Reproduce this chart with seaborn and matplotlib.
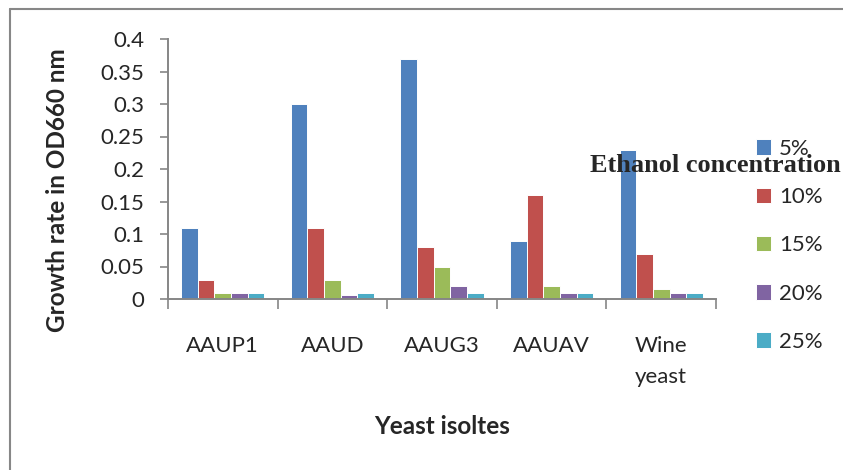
import pandas as pd
import matplotlib.pyplot as plt
import seaborn as sns
from matplotlib.lines import Line2D
from matplotlib.ticker import FuncFormatter, FixedLocator

isolates = ['AAUP1', 'AAUD', 'AAUG3', 'AAUAV', 'Wine\nyeast']
concentrations = ['5%', '10%', '15%', '20%', '25%']
growth_5 = [0.11, 0.30, 0.37, 0.09, 0.23]
growth_10 = [0.03, 0.11, 0.08, 0.16, 0.07]
growth_15 = [0.01, 0.03, 0.05, 0.02, 0.016]
growth_20 = [0.01, 0.006, 0.02, 0.01, 0.01]
growth_25 = [0.01, 0.01, 0.01, 0.01, 0.01]
colors = ['#4F81BD', '#C0504D', '#9BBB59', '#8064A2', '#4BACC6']

rows = []
for conc, vals in zip(concentrations, [growth_5, growth_10, growth_15, growth_20, growth_25]):
    for iso, v in zip(isolates, vals):
        rows.append({'isolate': iso, 'conc': conc, 'growth': v})
df = pd.DataFrame(rows)

sns.set_theme(style="white")
plt.rcParams['font.family'] = ['Lato', 'DejaVu Sans']

fig = plt.figure(figsize=(8.43, 4.70), dpi=100)
ax = fig.add_axes([168 / 843, 1 - 299 / 470, (716 - 168) / 843, 260 / 470])

sns.barplot(data=df, x='isolate', y='growth', hue='conc', order=isolates,
            hue_order=concentrations, palette=colors, saturation=1, width=0.76,
            edgecolor='white', linewidth=0.7, ax=ax, errorbar=None)

ax.set_ylim(0, 0.4)
ax.set_xlim(-0.5, 4.5)
ax.set_yticks([0, 0.05, 0.1, 0.15, 0.2, 0.25, 0.3, 0.35, 0.4])
ax.yaxis.set_major_formatter(FuncFormatter(lambda v, p: '%g' % round(v, 2)))
ax.tick_params(axis='y', labelsize=16, length=6, width=1.2, color='#868686',
               direction='out', left=True, pad=11)
ax.tick_params(axis='x', which='major', labelsize=16, length=0, pad=27)
ax.xaxis.set_minor_locator(FixedLocator([-0.5, 0.5, 1.5, 2.5, 3.5, 4.5]))
ax.tick_params(axis='x', which='minor', length=7, width=1.2, color='#868686',
               direction='out', bottom=True)
for lbl in ax.get_xticklabels():
    lbl.set_linespacing(1.65)
ax.set_xlabel('')
ax.set_ylabel('')
for s in ['top', 'right']:
    ax.spines[s].set_visible(False)
for s in ['left', 'bottom']:
    ax.spines[s].set_color('#868686')
    ax.spines[s].set_linewidth(1.4)

leg = ax.legend(loc='upper left', bbox_to_anchor=(747 / 843, 1 - 130 / 470),
                bbox_transform=fig.transFigure, frameon=False, fontsize=16,
                handlelength=0.7, handleheight=0.7, handletextpad=0.35,
                labelspacing=1.27, borderaxespad=0)

fig.text(58 / 843, 1 - 190 / 470, 'Growth rate in OD660 nm', rotation=90,
         ha='center', va='center', fontsize=17.5, fontweight='bold')
fig.text(442 / 843, 1 - 427 / 470, 'Yeast isoltes', ha='center', va='center',
         fontsize=17.5, fontweight='bold')
fig.text(590 / 843, 1 - 165 / 470, 'Ethanol concentration', ha='left', va='center',
         fontsize=19, fontweight='bold', family=['Liberation Serif', 'DejaVu Serif'])

# outer frame (left and top only)
fig.add_artist(Line2D([10 / 843, 10 / 843], [0, 1 - 9 / 470], transform=fig.transFigure,
                      color='#878787', lw=1.5))
fig.add_artist(Line2D([10 / 843, 1], [1 - 9 / 470, 1 - 9 / 470], transform=fig.transFigure,
                      color='#878787', lw=1.5))

fig.savefig('out.png', dpi=100)
